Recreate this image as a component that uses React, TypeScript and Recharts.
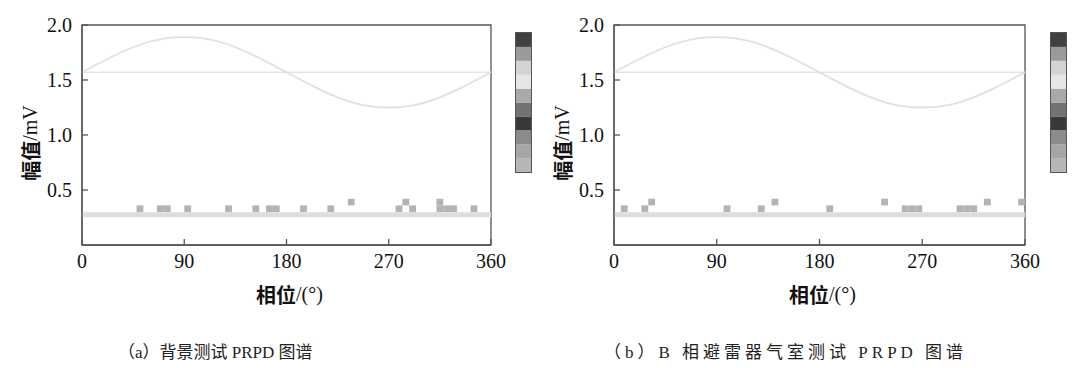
import { ComposedChart, Line, Scatter, XAxis, YAxis, ReferenceLine, ReferenceArea, BarChart, Bar } from 'recharts';

const phaseTicks = [0, 90, 180, 270, 360];
const ampTicks = [0.5, 1.0, 1.5, 2.0];

// reference sine, every 30 degrees
const wavePhase = [0, 30, 60, 90, 120, 150, 180, 210, 240, 270, 300, 330, 360];
const waveAmp = [1.57, 1.73, 1.85, 1.89, 1.85, 1.73, 1.57, 1.41, 1.29, 1.25, 1.29, 1.41, 1.57];
const waveMid = 1.57;
const noiseFloor = 0.275;

// (a) background test pulses
const pulsePhaseA = [51, 69, 75, 93, 129, 153, 165, 171, 195, 219, 237, 279, 285, 291, 315, 315, 321, 327, 345];
const pulseAmpA = [0.33, 0.33, 0.33, 0.33, 0.33, 0.33, 0.33, 0.33, 0.33, 0.33, 0.39, 0.33, 0.39, 0.33, 0.33, 0.39, 0.33, 0.33, 0.33];

// (b) phase B arrester chamber pulses
const pulsePhaseB = [9, 27, 33, 99, 129, 141, 189, 237, 255, 261, 267, 303, 309, 315, 327, 357];
const pulseAmpB = [0.33, 0.33, 0.39, 0.33, 0.33, 0.39, 0.33, 0.39, 0.33, 0.33, 0.33, 0.33, 0.33, 0.33, 0.39, 0.39];

// colour scale, top to bottom
const scaleColors = ['#404040', '#9a9a9a', '#d3d3d3', '#e6e6e6', '#a9a9a9', '#727272', '#393939', '#8b8b8b', '#a6a6a6', '#b6b6b6'];

const captionA = '（a）背景测试 PRPD 图谱';
const captionB = '（b）B 相避雷器气室测试 PRPD 图谱';

const waveData = wavePhase.map((p, i) => ({ phase: p, amp: waveAmp[i], mid: waveMid }));

const serif = "'Liberation Serif', 'Times New Roman', serif";
const cjk = "'Noto Sans CJK SC', sans-serif";
const tickStyle = { fontSize: 20, fontFamily: serif, fill: '#111', style: { fontFamily: serif } };

const Pixel = (p: any) => (
  <rect x={p.cx - 3.4} y={p.cy - 3.3} width={6.8} height={6.6} fill="#b3b3b3" />
);

const YTitle = ({ viewBox }: any) => {
  const cx = viewBox.x + 29.5;
  const cy = viewBox.y + viewBox.height / 2 + 8;
  return (
    <text x={cx} y={cy} transform={`rotate(-90, ${cx}, ${cy})`} textAnchor="middle" dominantBaseline="central" fontSize={20} fill="#111">
      <tspan style={{ fontFamily: cjk, fontWeight: 700 }}>幅值</tspan>
      <tspan style={{ fontFamily: serif }}>/mV</tspan>
    </text>
  );
};

const XTitle = ({ viewBox }: any) => {
  const cx = viewBox.x + viewBox.width / 2 + 3;
  const cy = viewBox.y + 49;
  return (
    <text x={cx} y={cy} textAnchor="middle" dominantBaseline="central" fontSize={20} fill="#111">
      <tspan style={{ fontFamily: cjk, fontWeight: 700 }}>相位</tspan>
      <tspan style={{ fontFamily: serif }}>/(°)</tspan>
    </text>
  );
};

function ColorScale({ left }: { left: number }) {
  const row: Record<string, number | string> = { name: 'scale' };
  scaleColors.forEach((_, i) => (row['c' + i] = 1));
  const keys = scaleColors.map((_, i) => i).reverse();
  return (
    <div style={{ position: 'absolute', left, top: 32, width: 15, height: 139, border: '1px solid #555' }}>
      <BarChart width={15} height={139} data={[row]} margin={{ top: 0, right: 0, bottom: 0, left: 0 }} barCategoryGap={0}>
        <XAxis dataKey="name" hide />
        <YAxis hide domain={[0, scaleColors.length]} />
        {keys.map((i) => (
          <Bar key={i} dataKey={'c' + i} stackId="s" fill={scaleColors[i]} isAnimationActive={false} />
        ))}
      </BarChart>
    </div>
  );
}

function Prpd({ left, right, phases, amps }: { left: number; right: number; phases: number[]; amps: number[] }) {
  const pulses = phases.map((p, i) => ({ phase: p, amp: amps[i] }));
  return (
    <div style={{ position: 'absolute', left, top: 0, fontFamily: serif }}>
      <ComposedChart width={540} height={312} margin={{ top: 25, right, bottom: 0, left: 0 }}>
        <XAxis
          dataKey="phase"
          type="number"
          domain={[0, 360]}
          ticks={phaseTicks}
          tickSize={-6}
          tickMargin={15}
          height={67}
          stroke="#555"
          strokeWidth={1.3}
          tick={tickStyle}
          label={<XTitle />}
        />
        <YAxis
          type="number"
          domain={[0, 2]}
          ticks={ampTicks}
          tickFormatter={(v: number) => v.toFixed(1)}
          tickSize={-6}
          tickMargin={16}
          width={82}
          stroke="#555"
          strokeWidth={1.3}
          tick={tickStyle}
          label={<YTitle />}
        />
        <ReferenceArea x1={0} x2={360} y1={0} y2={2} fill="none" stroke="#555" strokeWidth={1.3} />
        <ReferenceLine y={noiseFloor} stroke="#dddddd" strokeWidth={5} />
        <Line data={waveData} dataKey="mid" type="linear" stroke="#e3e3e3" strokeWidth={1.6} dot={false} isAnimationActive={false} />
        <Line data={waveData} dataKey="amp" type="natural" stroke="#e0e0e0" strokeWidth={1.8} dot={false} isAnimationActive={false} />
        <Scatter data={pulses} dataKey="amp" shape={<Pixel />} isAnimationActive={false} />
      </ComposedChart>
    </div>
  );
}

export default function App() {
  const capStyle = {
    position: 'absolute' as const,
    top: 342,
    fontSize: 17,
    fontFamily: "'Liberation Serif', 'Noto Sans CJK SC', serif",
    color: '#222',
    whiteSpace: 'nowrap' as const,
    lineHeight: '22px',
  };
  return (
    <div style={{ position: 'fixed', left: 0, top: 0, width: 1080, height: 368, background: '#fff', overflow: 'hidden', fontFamily: serif }}>
      <Prpd left={0} right={49} phases={pulsePhaseA} amps={pulseAmpA} />
      <Prpd left={532} right={47} phases={pulsePhaseB} amps={pulseAmpB} />
      <ColorScale left={515} />
      <ColorScale left={1050} />
      <div style={{ ...capStyle, left: 118 }}>{captionA}</div>
      <div style={{ ...capStyle, left: 604, letterSpacing: 4 }}>{captionB}</div>
    </div>
  );
}
